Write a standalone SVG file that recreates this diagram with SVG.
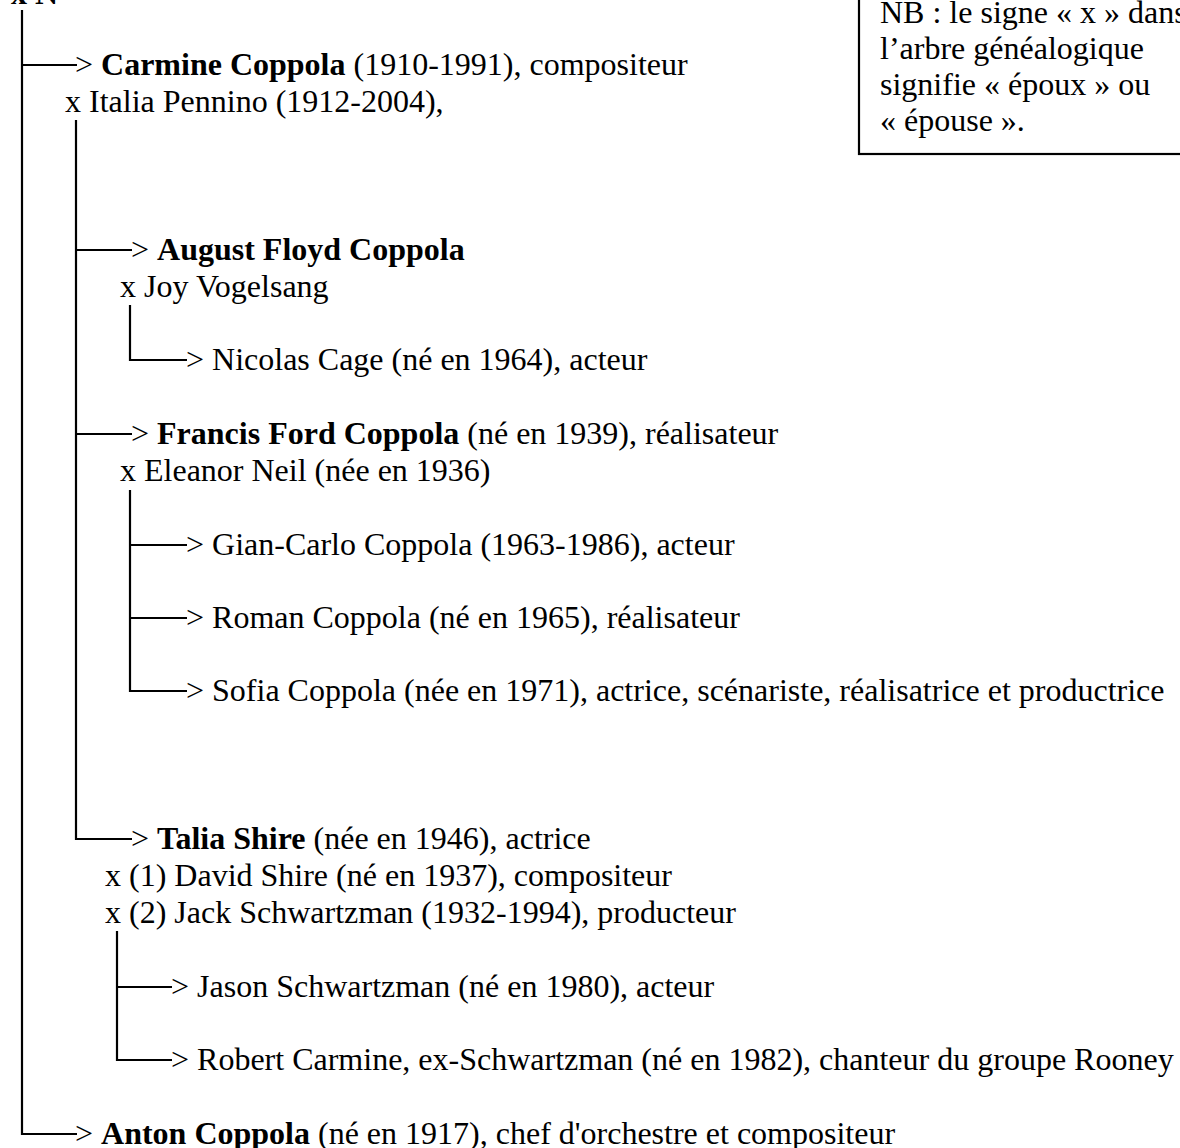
<svg xmlns="http://www.w3.org/2000/svg" width="1180" height="1148" viewBox="0 0 1180 1148">
<style>
text{font-family:"Liberation Serif","Times New Roman",serif;font-size:32px;fill:#000}
.b{font-weight:bold}
.c line{stroke:#000;stroke-width:2.2;fill:none}
.box{fill:#fff;stroke:#000;stroke-width:2.2}
</style>
<rect width="1180" height="1148" fill="#fff"/>
<g class="c" id="connectors">
<line x1="22" y1="10" x2="22" y2="1135"/>
<line x1="21" y1="65" x2="77" y2="65"/>
<line x1="21" y1="1134" x2="77" y2="1134"/>
<line x1="76" y1="120" x2="76" y2="840"/>
<line x1="75" y1="250" x2="132" y2="250"/>
<line x1="75" y1="434" x2="132" y2="434"/>
<line x1="75" y1="839" x2="132" y2="839"/>
<line x1="130" y1="305" x2="130" y2="361"/>
<line x1="129" y1="360" x2="187" y2="360"/>
<line x1="130" y1="490" x2="130" y2="692"/>
<line x1="129" y1="545" x2="187" y2="545"/>
<line x1="129" y1="618" x2="187" y2="618"/>
<line x1="129" y1="691" x2="187" y2="691"/>
<line x1="117" y1="931" x2="117" y2="1061"/>
<line x1="116" y1="987" x2="172" y2="987"/>
<line x1="116" y1="1060" x2="172" y2="1060"/>
</g>
<g id="root"><text x="11" y="4" class="b">x N</text></g>
<g id="carmine">
<text x="75" y="75">&gt; <tspan class="b">Carmine Coppola</tspan> (1910-1991), compositeur</text>
<text x="65" y="112">x Italia Pennino (1912-2004),</text>
</g>
<g id="august">
<text x="131" y="260">&gt; <tspan class="b">August Floyd Coppola</tspan></text>
<text x="120" y="297">x Joy Vogelsang</text>
</g>
<g id="nicolas"><text x="186" y="370">&gt; Nicolas Cage (né en 1964), acteur</text></g>
<g id="francis">
<text x="131" y="444">&gt; <tspan class="b">Francis Ford Coppola</tspan> (né en 1939), réalisateur</text>
<text x="120" y="481">x Eleanor Neil (née en 1936)</text>
</g>
<g id="giancarlo"><text x="186" y="555">&gt; Gian-Carlo Coppola (1963-1986), acteur</text></g>
<g id="roman"><text x="186" y="628">&gt; Roman Coppola (né en 1965), réalisateur</text></g>
<g id="sofia"><text x="186" y="701">&gt; Sofia Coppola (née en 1971), actrice, scénariste, réalisatrice et productrice</text></g>
<g id="talia">
<text x="131" y="849">&gt; <tspan class="b">Talia Shire</tspan> (née en 1946), actrice</text>
<text x="105" y="886">x (1) David Shire (né en 1937), compositeur</text>
<text x="105" y="923">x (2) Jack Schwartzman (1932-1994), producteur</text>
</g>
<g id="jason"><text x="171" y="997">&gt; Jason Schwartzman (né en 1980), acteur</text></g>
<g id="robert"><text x="171" y="1070">&gt; Robert Carmine, ex-Schwartzman (né en 1982), chanteur du groupe Rooney</text></g>
<g id="anton"><text x="75" y="1144">&gt; <tspan class="b">Anton Coppola</tspan> (né en 1917), chef d'orchestre et compositeur</text></g>
<g id="note">
<rect class="box" x="859" y="-10" width="340" height="164"/>
<text x="880" y="23">NB : le signe « x » dans</text>
<text x="880" y="59">l’arbre généalogique</text>
<text x="880" y="95">signifie « époux » ou</text>
<text x="880" y="131">« épouse ».</text>
</g>
</svg>
